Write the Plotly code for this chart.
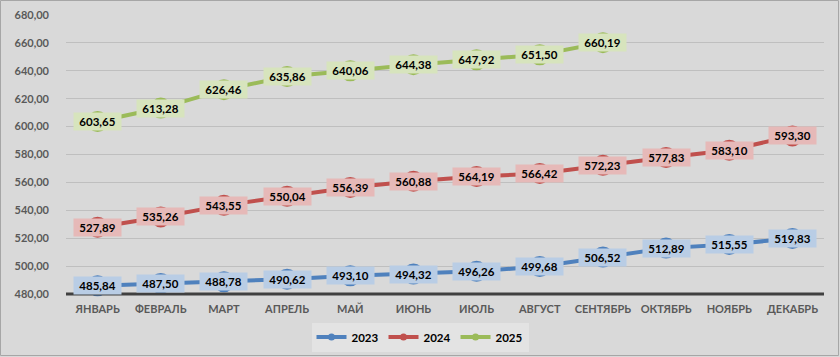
import plotly.graph_objects as go

months = ["ЯНВАРЬ", "ФЕВРАЛЬ", "МАРТ", "АПРЕЛЬ", "МАЙ", "ИЮНЬ", "ИЮЛЬ",
          "АВГУСТ", "СЕНТЯБРЬ", "ОКТЯБРЬ", "НОЯБРЬ", "ДЕКАБРЬ"]
v2023 = [485.84, 487.50, 488.78, 490.62, 493.10, 494.32, 496.26, 499.68,
         506.52, 512.89, 515.55, 519.83]
v2024 = [527.89, 535.26, 543.55, 550.04, 556.39, 560.88, 564.19, 566.42,
         572.23, 577.83, 583.10, 593.30]
v2025 = [603.65, 613.28, 626.46, 635.86, 640.06, 644.38, 647.92, 651.50,
         660.19]

series = [
    ("2023", v2023, "#4f81bd", "#b9cde5"),
    ("2024", v2024, "#c0504d", "#e6b9b8"),
    ("2025", v2025, "#9bbb59", "#d7e4bd"),
]

FONT = "Lato"
W, H = 840, 357
ML, MR, MT, MB = 66, 16, 15, 63

pw = W - ML - MR
ph = H - MT - MB
def px_x(p):
    return (p - ML) / pw
def px_y(p):
    return 1 - (p - MT) / ph

fig = go.Figure()
annotations = []
for name, vals, lc, bc in series:
    xs = months[:len(vals)]
    fig.add_trace(go.Scatter(
        x=xs, y=vals, name=name, mode="lines+markers", showlegend=False,
        line=dict(color=lc, width=4),
        marker=dict(color=lc, size=21, line=dict(width=0)),
        cliponaxis=False, hoverinfo="skip",
    ))
    for x, v in zip(xs, vals):
        annotations.append(dict(
            x=x, y=v, xref="x", yref="y", showarrow=False,
            text=f"{v:.2f}".replace(".", ","),
            bgcolor=bc, width=47, height=17, borderpad=0,
            font=dict(family=FONT, size=11.5, color="#000000", weight="bold"),
        ))
for name, vals, lc, bc in series:
    fig.add_trace(go.Scatter(
        x=[None], y=[None], name=name, mode="lines+markers",
        line=dict(color=lc, width=4),
        marker=dict(color=lc, size=7),
    ))

fig.add_shape(type="rect", xref="paper", yref="paper",
              x0=px_x(0.5), x1=px_x(W - 1.5), y0=px_y(0.5), y1=px_y(H - 1.5),
              line=dict(color="#a6a6a6", width=1), layer="below")
# bottom axis line
fig.add_shape(type="line", xref="paper", yref="paper",
              x0=0, x1=1, y0=0, y1=0,
              line=dict(color="#404040", width=3), layer="above")

fig.update_layout(
    width=W, height=H,
    margin=dict(l=ML, r=MR, t=MT, b=MB, autoexpand=False),
    paper_bgcolor="#d9d9d9", plot_bgcolor="#d9d9d9",
    separators=", ",
    font=dict(family=FONT, color="#595959", size=11),
    annotations=annotations,
    showlegend=True,
    legend=dict(
        orientation="h", xref="paper", yref="paper",
        x=px_x(420), xanchor="center", y=px_y(337), yanchor="middle",
        bgcolor="#e3e3e3", borderwidth=0,
        font=dict(family=FONT, size=11.5, color="#000000", weight="bold"),
        itemwidth=30, tracegroupgap=0,
    ),
    xaxis=dict(
        type="category", categoryorder="array", categoryarray=months,
        range=[-0.5, 11.5], showgrid=False, zeroline=False,
        showline=False,
        ticks="", ticklabelstandoff=7, automargin=False,
        tickfont=dict(family=FONT, size=11, color="#595959", weight="bold"),
    ),
    yaxis=dict(
        range=[480, 680], dtick=20, tickformat=".2f",
        showgrid=True, gridcolor="#bfbfbf", gridwidth=1, automargin=False,
        zeroline=False, showline=False, ticks="", ticklabelstandoff=16,
        tickfont=dict(family=FONT, size=11, color="#595959", weight="bold"),
    ),
)

fig.write_html("out.html",
               config={"displayModeBar": False},
               post_script="document.body.style.margin='0';"
                           "document.body.style.padding='0';")
